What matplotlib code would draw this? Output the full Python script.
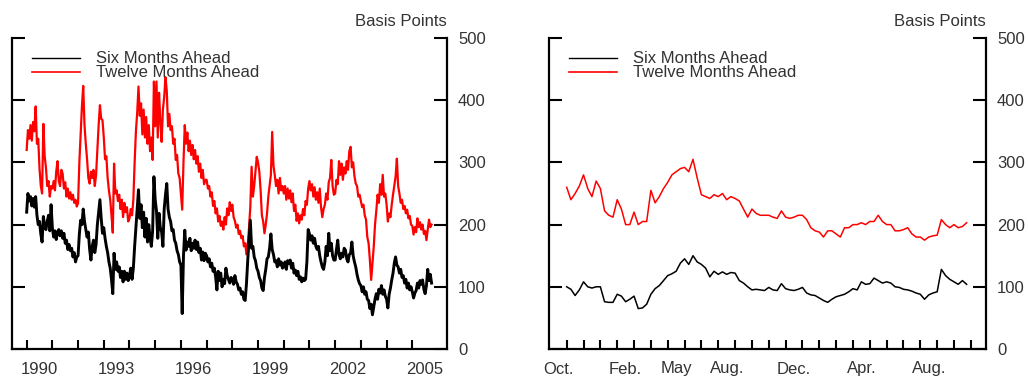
import numpy as np
import matplotlib
matplotlib.use("Agg")
import matplotlib.pyplot as plt
from matplotlib.lines import Line2D

plt.rcParams['font.family'] = ['Liberation Sans', 'DejaVu Sans']

# long history, one value every 0.05 year starting Jan 1990
hist_start = 1990.0
hist_step = 0.05
hist_twelve = [
    320, 352, 338, 360, 335, 365, 350, 390, 330, 338, 290, 262, 250, 362, 310, 292, 262, 270, 245, 262,
    258, 270, 255, 285, 302, 270, 262, 288, 282, 258, 268, 245, 258, 242, 252, 240, 248, 235, 240, 229,
    235, 300, 345, 390, 423, 360, 330, 305, 275, 266, 285, 275, 288, 262, 280, 320, 360, 392, 370, 368,
    340, 305, 310, 275, 255, 240, 215, 187, 298, 250, 255, 238, 248, 225, 240, 212, 235, 220, 228, 205,
    210, 225, 215, 240, 300, 350, 380, 422, 375, 395, 345, 385, 340, 373, 330, 360, 318, 340, 304, 430,
    358, 430, 340, 412, 365, 333, 385, 405, 437, 415, 358, 378, 352, 358, 330, 338, 304, 312, 282, 275,
    250, 224, 300, 360, 330, 348, 318, 335, 312, 328, 305, 320, 298, 310, 285, 298, 275, 288, 265, 272,
    272, 258, 262, 245, 252, 230, 238, 218, 226, 205, 214, 198, 205, 192, 212, 200, 226, 215, 236, 222,
    232, 212, 206, 195, 200, 185, 190, 178, 182, 165, 170, 152, 168, 195, 229, 293, 245, 262, 285, 309,
    300, 285, 255, 215, 205, 186, 200, 218, 245, 262, 280, 349, 295, 280, 262, 272, 250, 275, 255, 262,
    250, 262, 240, 258, 242, 255, 236, 250, 222, 232, 206, 218, 202, 215, 208, 225, 215, 238, 232, 258,
    270, 255, 265, 245, 260, 240, 252, 235, 258, 228, 212, 225, 232, 250, 240, 268, 275, 304, 262, 248,
    250, 272, 265, 302, 280, 298, 272, 292, 282, 302, 288, 318, 325, 292, 300, 278, 266, 262, 245, 248,
    238, 228, 232, 215, 208, 180, 170, 143, 111, 138, 164, 200, 222, 248, 235, 265, 248, 280, 245, 250,
    232, 205, 218, 212, 232, 248, 262, 277, 306, 262, 250, 235, 240, 225, 230, 218, 224, 210, 214, 200,
    198, 184, 196, 188, 210, 196, 204, 192, 200, 185, 190, 175, 192, 208, 196, 200,
]
hist_six = [
    220, 250, 238, 245, 230, 242, 228, 245, 215, 200, 205, 185, 172, 213, 198, 192, 205, 215, 190, 232,
    195, 180, 190, 176, 188, 192, 182, 190, 178, 186, 170, 175, 160, 168, 158, 162, 148, 155, 140, 148,
    150, 185, 207, 200, 225, 205, 192, 180, 188, 160, 143, 165, 175, 155, 168, 200, 220, 240, 210, 186,
    195, 178, 165, 155, 140, 130, 112, 89, 154, 128, 140, 125, 132, 115, 125, 108, 125, 112, 122, 110,
    118, 130, 112, 130, 165, 196, 225, 256, 210, 232, 195, 220, 180, 210, 172, 200, 178, 165, 190, 277,
    240, 222, 178, 218, 195, 188, 165, 225, 248, 266, 225, 212, 205, 190, 192, 175, 170, 158, 152, 140,
    135, 57, 150, 191, 159, 172, 165, 178, 158, 170, 162, 175, 160, 172, 155, 162, 143, 156, 142, 154,
    150, 140, 145, 132, 138, 125, 130, 116, 95, 125, 110, 122, 100, 112, 105, 130, 118, 112, 106, 115,
    112, 104, 118, 108, 104, 95, 98, 88, 92, 80, 78, 105, 143, 175, 207, 162, 165, 148, 142, 130,
    125, 115, 110, 98, 94, 115, 128, 145, 148, 162, 185, 160, 152, 140, 142, 132, 145, 135, 140, 130,
    132, 140, 128, 142, 138, 143, 130, 138, 122, 127, 118, 125, 112, 116, 108, 114, 110, 112, 140, 192,
    185, 175, 182, 170, 178, 165, 160, 165, 150, 140, 132, 128, 140, 165, 150, 186, 158, 170, 150, 143,
    143, 160, 175, 152, 145, 154, 148, 162, 159, 145, 140, 152, 154, 172, 150, 140, 132, 120, 111, 105,
    102, 92, 100, 88, 92, 80, 78, 65, 72, 55, 68, 80, 89, 80, 96, 90, 102, 88, 95, 85,
    80, 66, 88, 98, 111, 122, 138, 148, 135, 132, 122, 128, 115, 118, 106, 112, 98, 106, 95, 100,
    92, 82, 90, 94, 106, 98, 110, 104, 111, 96, 89, 102, 128, 110, 120, 106,
]
hist_years = list(range(1990, 2006))
hist_labels = ['1990', '1993', '1996', '1999', '2002', '2005']

# recent two years, four values a month starting in October
recent_step = 0.25
recent_twelve = [
    260, 240, 250, 262, 280, 258, 245, 270, 258, 222, 215, 212,
    240, 225, 200, 200, 220, 200, 205, 205, 255, 235, 245, 258,
    268, 280, 285, 290, 292, 285, 305, 275, 248, 245, 242, 248,
    245, 250, 240, 245, 242, 238, 225, 212, 225, 218, 215, 215,
    215, 212, 210, 222, 212, 210, 212, 215, 215, 208, 195, 190,
    188, 180, 190, 190, 185, 180, 195, 195, 200, 200, 203, 200,
    205, 205, 215, 205, 200, 200, 190, 190, 192, 195, 185, 180,
    180, 175, 180, 182, 183, 208, 200, 195, 200, 195, 197, 203,
]
recent_six = [
    100, 96, 86, 95, 108, 100, 98, 100, 100, 76, 75, 75,
    88, 85, 76, 80, 85, 65, 66, 72, 88, 97, 102, 110,
    118, 121, 125, 138, 145, 136, 150, 140, 136, 130, 116, 125,
    120, 124, 120, 123, 122, 110, 106, 100, 95, 96, 95, 94,
    99, 95, 94, 105, 97, 95, 94, 96, 99, 90, 87, 86,
    82, 78, 75, 80, 84, 86, 88, 92, 97, 95, 108, 104,
    105, 114, 110, 106, 108, 106, 100, 99, 96, 95, 93, 90,
    88, 80, 87, 90, 92, 128, 118, 112, 108, 104, 110, 104,
]
recent_months = list(range(0, 25))
recent_label_months = [0, 4, 7, 10, 14, 18, 22]
recent_labels = ['Oct.', 'Feb.', 'May', 'Aug.', 'Dec.', 'Apr.', 'Aug.']

TXT = '#333333'
FS = 12


def style_axes(ax):
    ax.set_ylim(0, 500)
    ax.spines['top'].set_visible(False)
    for s in ['left', 'right', 'bottom']:
        ax.spines[s].set_linewidth(1.6)
    ax.set_yticks([0, 100, 200, 300, 400, 500])
    ax.tick_params(axis='y', which='major', left=True, right=True, labelleft=False,
                   labelright=True, direction='in', length=9.5, width=1.5,
                   pad=8, labelsize=FS, labelcolor=TXT)
    ax.tick_params(axis='x', which='major', bottom=True, top=False, direction='in',
                   length=6.5, width=1.5, labelbottom=False)
    ax.tick_params(axis='x', which='minor', bottom=True, length=0, pad=9,
                   labelsize=FS, labelcolor=TXT)
    ax.text(1.0, 1.03, 'Basis Points', transform=ax.transAxes, ha='right', va='bottom',
            fontsize=FS, color=TXT)
    handles = [Line2D([], [], color='black', lw=1.0), Line2D([], [], color='red', lw=1.2)]
    ax.legend(handles, ['Six Months Ahead', 'Twelve Months Ahead'], loc='upper left',
              bbox_to_anchor=(0.046, 0.957), borderaxespad=0, borderpad=0, frameon=False,
              fontsize=FS, handlelength=2.9, handletextpad=0.95, labelspacing=-0.06,
              labelcolor=TXT)


fig = plt.figure(figsize=(10.28, 3.77), dpi=100)
ax1 = fig.add_axes([12 / 1028, 28 / 377, 435 / 1028, 311 / 377])
ax2 = fig.add_axes([549 / 1028, 28 / 377, 437 / 1028, 311 / 377])

# dense daily-looking history: thick strokes
x_hist = hist_start + hist_step * np.arange(len(hist_twelve))
ax1.plot(x_hist, hist_twelve, color='red', lw=1.6)
ax1.plot(x_hist, hist_six, color='black', lw=2.1)
ax1.set_xlim(1989.43, 2006.35)
ax1.set_xticks(hist_years)
ax1.set_xticks([int(y) + 0.5 for y in hist_labels], minor=True)
ax1.set_xticklabels(hist_labels, minor=True)
style_axes(ax1)

x_recent = recent_step * np.arange(len(recent_twelve))
ax2.plot(x_recent, recent_twelve, color='red', lw=1.1)
ax2.plot(x_recent, recent_six, color='black', lw=1.1)
ax2.set_xlim(-1.05, 24.9)
ax2.set_xticks(recent_months)
ax2.set_xticks([m - 0.5 for m in recent_label_months], minor=True)
ax2.set_xticklabels(recent_labels, minor=True)
style_axes(ax2)

fig.savefig('out.png', dpi=100)
